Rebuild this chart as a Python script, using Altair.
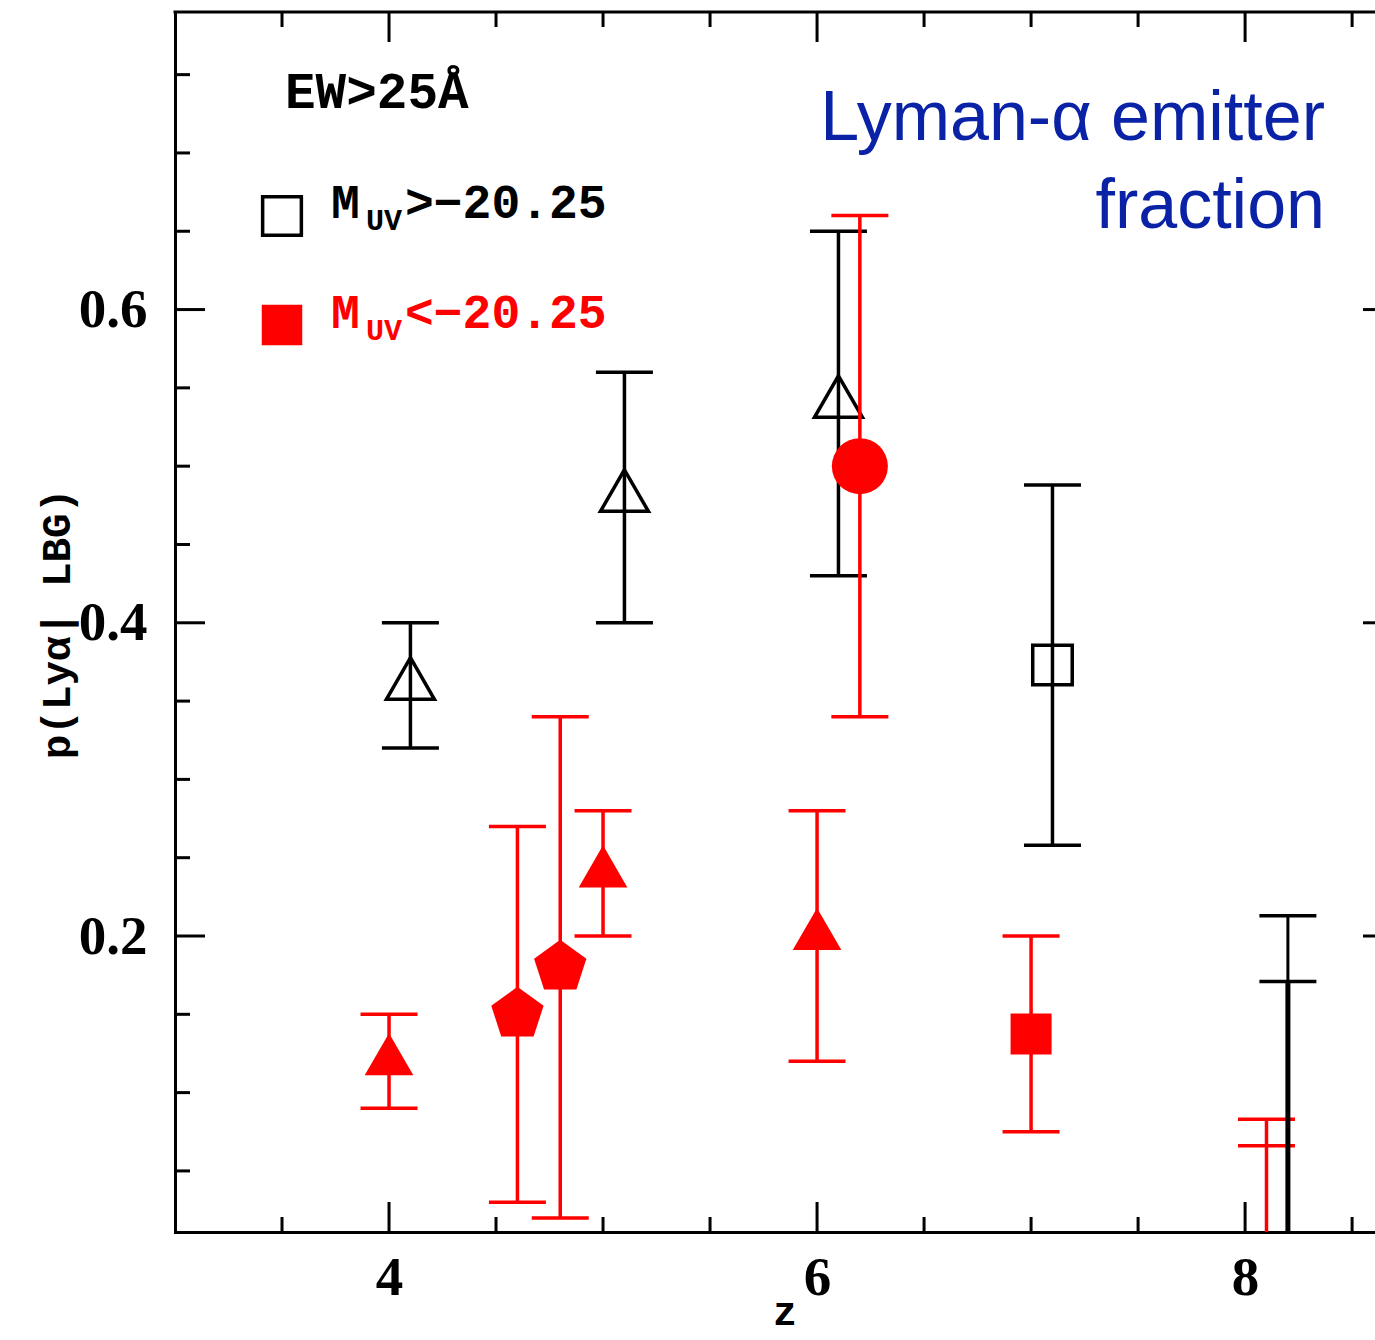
import altair as alt
import pandas as pd

# ---------------- data ----------------
# M_UV > -20.25 (black, open symbols)
blk_tri_z = [4.1, 5.1, 6.1]
blk_tri_p = [0.36, 0.48, 0.54]
blk_tri_lo = [0.32, 0.40, 0.43]
blk_tri_hi = [0.40, 0.56, 0.65]

blk_sq_z = [7.1]
blk_sq_p = [0.373]
blk_sq_lo = [0.258]
blk_sq_hi = [0.488]

blk_lim_z = [8.2]
blk_lim_caps = [0.213, 0.171]

# M_UV < -20.25 (red, filled symbols)
red_tri_z = [4.0, 5.0, 6.0]
red_tri_p = [0.12, 0.24, 0.20]
red_tri_lo = [0.09, 0.20, 0.12]
red_tri_hi = [0.15, 0.28, 0.28]

red_pent_z = [4.6, 4.8]
red_pent_p = [0.15, 0.18]
red_pent_lo = [0.03, 0.02]
red_pent_hi = [0.27, 0.34]

red_circ_z = [6.2]
red_circ_p = [0.50]
red_circ_lo = [0.34]
red_circ_hi = [0.66]

red_sq_z = [7.0]
red_sq_p = [0.1375]
red_sq_lo = [0.075]
red_sq_hi = [0.20]

red_lim_z = [8.1]
red_lim_caps = [0.083, 0.066]

limit_floor = 0.0  # upper-limit bars run down past the bottom of the plot

# axes
x_domain = [3.0, 8.607]
y_domain = [0.011, 0.790]
x_major = [4, 6, 8]
x_minor = [3.5, 4.5, 5.0, 5.5, 6.5, 7.0, 7.5, 8.5]
y_major = [0.2, 0.4, 0.6]
y_minor = [0.05, 0.10, 0.15, 0.25, 0.30, 0.35, 0.45, 0.50, 0.55, 0.65, 0.70, 0.75]

# texts
ew_text = "EW>25Å"
leg_m = "M"
leg_sub = "UV"
leg_black = ">−20.25"
leg_red = "<−20.25"
blue_lines = ["Lyman-α emitter", "fraction"]
y_title = "p(Lyα| LBG)"
x_title = "z"

# ---------------- layout ----------------
W, H = 1200, 1220
RED = "#ff0000"
BLUE = "#0a22a6"
LW = 3.5

xs = alt.Scale(domain=x_domain, nice=False, zero=False)
ys = alt.Scale(domain=y_domain, nice=False, zero=False)

AXX = alt.Axis(
    values=x_major, format="d", ticks=False, tickSize=0, grid=False, title=None,
    domain=True, domainWidth=3, domainColor="black", domainCap="square",
    labelFont="Liberation Serif", labelFontWeight="bold", labelFontSize=55,
    labelColor="black", labelPadding=19)
AXY = alt.Axis(
    values=y_major, format=".1f", ticks=False, tickSize=0, grid=False, title=None,
    domain=True, domainWidth=3, domainColor="black", domainCap="square",
    labelFont="Liberation Serif", labelFontWeight="bold", labelFontSize=55,
    labelColor="black", labelPadding=28)

TRI = "M0,-1.1547L1,0.57735L-1,0.57735Z"
PENT = "M0,-1L0.9511,-0.309L0.5878,0.809L-0.5878,0.809L-0.9511,-0.309Z"


def XF(f):
    return alt.X(f + ":Q", scale=xs, axis=AXX)


def YF(f):
    return alt.Y(f + ":Q", scale=ys, axis=AXY)


def pts(z, p):
    return pd.DataFrame({"z": z, "p": p})


def errs(z, lo, hi):
    return pd.DataFrame({"z": z, "lo": lo, "hi": hi})


def caps(z, lo, hi):
    return pd.DataFrame({"z": list(z) + list(z), "v": list(lo) + list(hi)})


def err_layer(df, color, width=LW):
    return alt.Chart(df).mark_rule(color=color, strokeWidth=width, clip=True).encode(
        x=XF("z"), y=YF("lo"), y2="hi:Q"
    )


def cap_layer(df, color):
    return alt.Chart(df).mark_tick(
        color=color, orient="horizontal", size=57, thickness=LW, opacity=1
    ).encode(x=XF("z"), y=YF("v"))


def sym_layer(df, shape, size, color, filled):
    if filled:
        m = alt.Chart(df).mark_point(shape=shape, size=size, filled=True, color=color,
                                     opacity=1, strokeWidth=0)
    else:
        m = alt.Chart(df).mark_point(shape=shape, size=size, filled=False, color=color,
                                     opacity=1, strokeWidth=LW)
    return m.encode(x=XF("z"), y=YF("p"))


layers = []

# black
layers.append(err_layer(errs(blk_tri_z, blk_tri_lo, blk_tri_hi), "black"))
layers.append(cap_layer(caps(blk_tri_z, blk_tri_lo, blk_tri_hi), "black"))
layers.append(err_layer(errs(blk_sq_z, blk_sq_lo, blk_sq_hi), "black"))
layers.append(cap_layer(caps(blk_sq_z, blk_sq_lo, blk_sq_hi), "black"))
layers.append(sym_layer(pts(blk_tri_z, blk_tri_p), TRI, 2300, "black", False))
layers.append(sym_layer(pts(blk_sq_z, blk_sq_p), "square", 1560, "black", False))

# red
r_z = red_tri_z + red_pent_z + red_circ_z + red_sq_z
r_lo = red_tri_lo + red_pent_lo + red_circ_lo + red_sq_lo
r_hi = red_tri_hi + red_pent_hi + red_circ_hi + red_sq_hi
layers.append(err_layer(errs(r_z, r_lo, r_hi), RED))
layers.append(cap_layer(caps(r_z, r_lo, r_hi), RED))
layers.append(sym_layer(pts(red_tri_z, red_tri_p), TRI, 2370, RED, True))
layers.append(sym_layer(pts(red_pent_z, red_pent_p), PENT, 3025, RED, True))
layers.append(sym_layer(pts(red_circ_z, red_circ_p), "circle", 3136, RED, True))
layers.append(sym_layer(pts(red_sq_z, red_sq_p), "square", 1681, RED, True))

# upper limits
layers.append(err_layer(errs(red_lim_z, [limit_floor], [max(red_lim_caps)]), RED))
layers.append(cap_layer(pd.DataFrame({"z": red_lim_z * 2, "v": red_lim_caps}), RED))
layers.append(err_layer(errs(blk_lim_z, [limit_floor], [max(blk_lim_caps)]), "black", 3))
layers.append(err_layer(errs(blk_lim_z, [limit_floor], [min(blk_lim_caps)]), "black", 5))
layers.append(cap_layer(pd.DataFrame({"z": blk_lim_z * 2, "v": blk_lim_caps}), "black"))


# ---------------- frame ticks (inward) ----------------
def vdf(vals):
    return pd.DataFrame({"v": vals})


def yticks(vals, x1, x2):
    return alt.Chart(vdf(vals)).mark_rule(color="black", strokeWidth=3).encode(
        y=YF("v"), x=alt.value(x1), x2=alt.value(x2))


def xticks(vals, y1, y2):
    return alt.Chart(vdf(vals)).mark_rule(color="black", strokeWidth=3).encode(
        x=XF("v"), y=alt.value(y1), y2=alt.value(y2))


layers += [
    yticks(y_major, 0, 30), yticks(y_minor, 0, 15), yticks(y_major, W - 12, W),
    xticks(x_major, 0, 30), xticks(x_minor, 0, 15),
    xticks(x_major, H - 30, H), xticks(x_minor, H - 15, H),
]

one = pd.DataFrame({"k": [0]})
layers.append(alt.Chart(one).mark_rule(color="black", strokeWidth=3, strokeCap="square").encode(
    x=alt.value(0), x2=alt.value(W), y=alt.value(0)))


# ---------------- texts ----------------
def txt(s, x, y, size, color="black", font="Liberation Mono", weight="bold",
        align="left", angle=0):
    kw = dict(text=s, font=font, fontSize=size, fontWeight=weight, color=color,
              align=align, baseline="alphabetic")
    if angle:
        kw["angle"] = angle
    return alt.Chart(one).mark_text(**kw).encode(x=alt.value(x), y=alt.value(y))


layers += [
    txt(ew_text, 110, 96, 51),
    txt(leg_m, 156, 206, 48), txt(leg_sub, 191, 218, 30), txt(leg_black, 230, 206, 48),
    txt(leg_m, 156, 316, 48, RED), txt(leg_sub, 191, 328, 30, RED), txt(leg_red, 230, 316, 48, RED),
    txt(blue_lines[0], 1150, 128, 70, BLUE, "Liberation Sans", "normal", "right"),
    txt(blue_lines[1], 1150, 216, 70, BLUE, "Liberation Sans", "normal", "right"),
    txt(y_title, -105, 612, 41, align="center", angle=270),
    txt(x_title, 610, 1313, 40, align="center"),
]

layers.append(alt.Chart(one).mark_point(shape="square", size=1500, filled=False, color="black",
                                        opacity=1, strokeWidth=LW).encode(
    x=alt.value(107), y=alt.value(204)))
layers.append(alt.Chart(one).mark_point(shape="square", size=1640, filled=True, color=RED,
                                        opacity=1, strokeWidth=0).encode(
    x=alt.value(107), y=alt.value(313)))

chart = alt.layer(*layers).properties(
    width=W, height=H,
    autosize=alt.AutoSizeParams(type="none"),
    padding={"left": 175, "top": 12, "right": 0, "bottom": 108},
).configure_view(stroke=None).configure(background="white")

chart.save("out.html", embed_options={"renderer": "svg", "actions": False})
